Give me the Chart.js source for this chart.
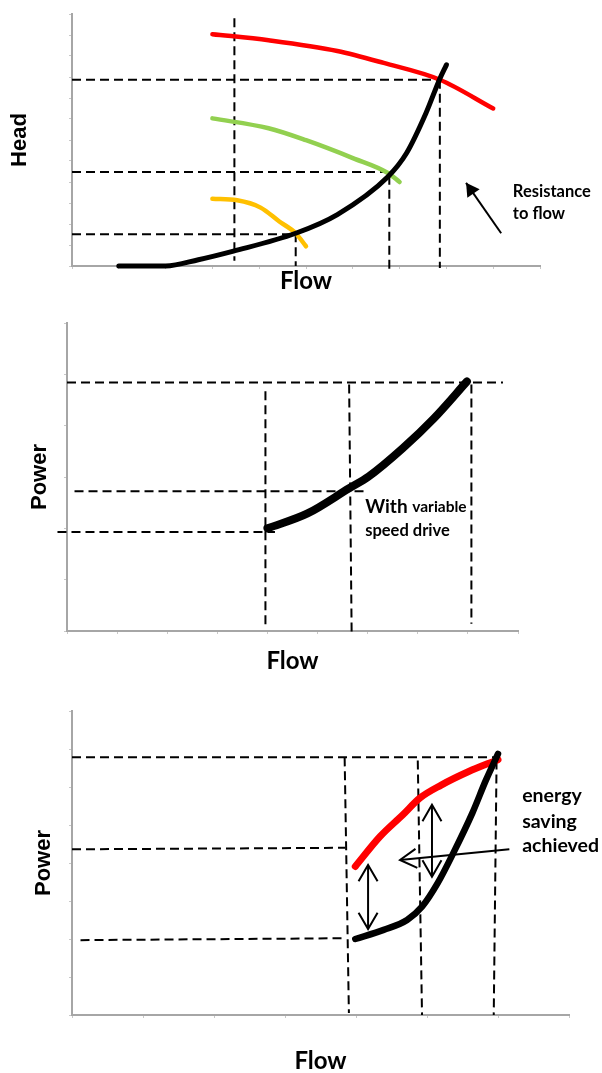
<!DOCTYPE html>
<html>
<head>
<meta charset="utf-8">
<script src="https://cdn.jsdelivr.net/npm/chart.js@4/dist/chart.umd.min.js"></script>
<style>
  html, body { margin: 0; padding: 0; background: #fff; overflow: hidden; }
  canvas { position: absolute; left: 0; }
</style>
</head>
<body>
<canvas id="c1" width="602" height="300" style="top:0"></canvas>
<canvas id="c2" width="602" height="370" style="top:310px"></canvas>
<canvas id="c3" width="602" height="386" style="top:690px"></canvas>
<script>
// ---- panel 1: head vs flow ----
const sysX   = [1, 2, 2.7, 3.45, 4.78, 5.67, 6.75, 7.15, 7.56, 7.86, 8.0];
const sysY   = [0, 0, 0.3, 0.71, 1.56, 2.45, 4.25, 5.38, 7.26, 8.92, 9.58];
const redX   = [3.0, 4.2, 5.67, 6.66, 7.86, 9.0];
const redY   = [11.04, 10.75, 10.24, 9.67, 8.87, 7.5];
const greenX = [3.0, 4.2, 5.0, 6.0, 6.75, 7.0];
const greenY = [7.03, 6.56, 5.99, 5.14, 4.43, 4.0];
const yellowX = [3.0, 3.53, 4.03, 4.43, 4.78, 5.0];
const yellowY = [3.2, 3.13, 2.78, 2.12, 1.56, 0.94];
const dash1 = [
  [[3.47, 11.8], [3.47, 0.25]],
  [[4.78, 1.56], [4.78, 0]],
  [[6.78, 4.3], [6.78, -0.3]],
  [[7.86, 8.87], [7.86, -0.1]],
  [[0, 8.87], [7.86, 8.87]],
  [[0, 4.48], [6.78, 4.48]],
  [[0, 1.51], [4.78, 1.51]]
];
const resistanceArrow = [[9.17, 1.56], [8.42, 3.96]];
const resistanceText = ['Resistance', 'to flow'];

// ---- panel 2: power with variable speed drive ----
const vsdX = [4.0, 4.8, 5.63, 6.02, 6.7, 7.32, 7.98];
const vsdY = [2.0, 2.29, 2.78, 3.01, 3.56, 4.14, 4.86];
const dash2 = [
  [[0, 4.84], [8.7, 4.84]],
  [[0.15, 2.72], [5.98, 2.72]],
  [[-0.19, 1.93], [4.15, 1.93]],
  [[3.96, 4.67], [3.96, 0.08]],
  [[5.63, 4.8], [5.68, -0.01]],
  [[8.07, 4.8], [8.07, 0.14]]
];

// ---- panel 3: energy saving ----
const blackX = [3.99, 4.39, 4.72, 4.93, 5.15, 5.37, 5.64, 5.83, 6.0];
const blackY = [2.0, 2.24, 2.5, 2.85, 3.47, 4.26, 5.32, 6.18, 6.87];
const throttX = [3.99, 4.34, 4.66, 4.9, 5.2, 5.58, 6.0];
const throttY = [3.91, 4.7, 5.27, 5.71, 6.05, 6.4, 6.72];
const dash3 = [
  [[0, 6.78], [5.96, 6.78]],
  [[0, 4.36], [3.85, 4.4]],
  [[0.12, 1.97], [3.85, 2.02]],
  [[3.84, 6.78], [3.9, 0.05]],
  [[4.87, 6.7], [4.93, 0]],
  [[5.98, 6.7], [5.94, 0]]
];
const savingArrows = [
  [[4.17, 3.95], [4.17, 2.26], 'both'],
  [[5.07, 5.53], [5.07, 3.64], 'both'],
  [[6.16, 4.36], [4.62, 4.08], 'end']
];
const savingText = ['energy', 'saving', 'achieved'];

const pts = (xs, ys) => xs.map((v, i) => ({x: v, y: ys[i]}));

function curve(xs, ys, color, width) {
  return {data: pts(xs, ys), borderColor: color, borderWidth: width, showLine: true,
    pointRadius: 0, cubicInterpolationMode: 'monotone', clip: false,
    borderCapStyle: 'round', borderJoinStyle: 'round'};
}
function dashed(seg) {
  return {data: seg.map(p => ({x: p[0], y: p[1]})), borderColor: '#000', borderWidth: 2,
    borderDash: [9, 5], showLine: true, pointRadius: 0, tension: 0, clip: false};
}

const notes = {
  id: 'notes',
  afterDatasetsDraw(chart, args, opts) {
    const {ctx} = chart;
    const sx = chart.scales.x, sy = chart.scales.y;
    ctx.save();
    ctx.strokeStyle = '#000';
    ctx.fillStyle = '#000';
    ctx.lineWidth = 2;
    (opts.arrows || []).forEach(a => {
      const x1 = sx.getPixelForValue(a[0][0]), y1 = sy.getPixelForValue(a[0][1]);
      const x2 = sx.getPixelForValue(a[1][0]), y2 = sy.getPixelForValue(a[1][1]);
      ctx.beginPath(); ctx.moveTo(x1, y1); ctx.lineTo(x2, y2); ctx.stroke();
      const head = (hx, hy, ang) => {
        const L = opts.headLen || 16, w = Math.PI / 6;
        const p1 = [hx - L * Math.cos(ang - w), hy - L * Math.sin(ang - w)];
        const p2 = [hx - L * Math.cos(ang + w), hy - L * Math.sin(ang + w)];
        ctx.beginPath();
        if (opts.filled) {
          ctx.moveTo(hx, hy); ctx.lineTo(p1[0], p1[1]); ctx.lineTo(p2[0], p2[1]); ctx.closePath(); ctx.fill();
        } else {
          ctx.moveTo(p1[0], p1[1]); ctx.lineTo(hx, hy); ctx.lineTo(p2[0], p2[1]); ctx.stroke();
        }
      };
      const ang = Math.atan2(y2 - y1, x2 - x1);
      head(x2, y2, ang);
      if (a[2] === 'both') head(x1, y1, ang + Math.PI);
    });
    ctx.textBaseline = 'middle';
    ctx.textAlign = 'left';
    (opts.texts || []).forEach(t => {
      let px = sx.getPixelForValue(t.x);
      const py = sy.getPixelForValue(t.y);
      t.parts.forEach(p => {
        ctx.font = p[1];
        ctx.fillText(p[0], px, py);
        px += ctx.measureText(p[0]).width;
      });
    });
    ctx.restore();
  }
};

function axes(xMax, yMax, yWidth, xHeight, yTitle, yPad) {
  const gridOpts = {display: true, drawOnChartArea: false, drawTicks: true, tickLength: 3, color: '#c8c8c8'};
  const border = {display: true, color: '#a6a6a6', width: 2};
  return {
    x: {type: 'linear', min: 0, max: xMax, grid: gridOpts, border: border,
      ticks: {display: false, stepSize: 1},
      title: {display: true, text: 'Flow', color: '#000', padding: {top: 0, bottom: 0},
        font: {family: 'Lato', weight: 'bold', size: 24}},
      afterFit: s => { s.height = xHeight; }},
    y: {type: 'linear', min: 0, max: yMax, grid: gridOpts, border: border,
      ticks: {display: false, stepSize: 1},
      title: {display: true, text: yTitle, color: '#000', padding: {top: yPad, bottom: 0},
        font: {family: 'Liberation Sans', weight: 'bold', size: 22}},
      afterFit: s => { s.width = yWidth; }}
  };
}

function baseOpts(pad, sc, notesOpts) {
  return {
    responsive: false, animation: false,
    layout: {padding: pad},
    plugins: {legend: {display: false}, tooltip: {enabled: false}, notes: notesOpts},
    scales: sc
  };
}

new Chart(document.getElementById('c1'), {
  type: 'scatter',
  data: {datasets: [
    curve(sysX, sysY, '#000', 5),
    curve(redX, redY, '#ff0000', 4.5),
    curve(greenX, greenY, '#92d050', 4.5),
    curve(yellowX, yellowY, '#ffc000', 4.5)
  ].concat(dash1.map(dashed))},
  options: baseOpts({left: 0, top: 14, right: 62, bottom: 4}, axes(10, 12, 72, 30, 'Head', 7), {
    arrows: [[resistanceArrow[0], resistanceArrow[1], 'end']], filled: true, headLen: 15,
    texts: [
      {x: 9.42, y: 3.54, parts: [[resistanceText[0], 'bold 16.5px Lato']]},
      {x: 9.42, y: 2.5, parts: [[resistanceText[1], 'bold 16.5px Lato']]}
    ]
  }),
  plugins: [notes]
});

new Chart(document.getElementById('c2'), {
  type: 'scatter',
  data: {datasets: [curve(vsdX, vsdY, '#000', 8)].concat(dash2.map(dashed))},
  options: baseOpts({left: 0, top: 13, right: 84, bottom: 4}, axes(9, 6, 67, 45, 'Power', 27), {
    texts: [
      {x: 5.95, y: 2.41, parts: [['With ', 'bold 19px Lato'], ['variable', 'bold 15.5px Lato']]},
      {x: 5.95, y: 1.96, parts: [['speed drive', 'bold 16.5px Lato']]}
    ]
  }),
  plugins: [notes]
});

new Chart(document.getElementById('c3'), {
  type: 'scatter',
  data: {datasets: [
    curve(blackX, blackY, '#000', 6.5),
    curve(throttX, throttY, '#ff0000', 7)
  ].concat(dash3.map(dashed))},
  options: baseOpts({left: 0, top: 21, right: 33, bottom: 0}, axes(7, 8, 72, 61, 'Power', 31), {
    arrows: savingArrows, filled: false, headLen: 19,
    texts: [
      {x: 6.34, y: 5.76, parts: [[savingText[0], 'bold 19.5px Lato']]},
      {x: 6.34, y: 5.08, parts: [[savingText[1], 'bold 19.5px Lato']]},
      {x: 6.34, y: 4.45, parts: [[savingText[2], 'bold 19.5px Lato']]}
    ]
  }),
  plugins: [notes]
});
</script>
</body>
</html>
